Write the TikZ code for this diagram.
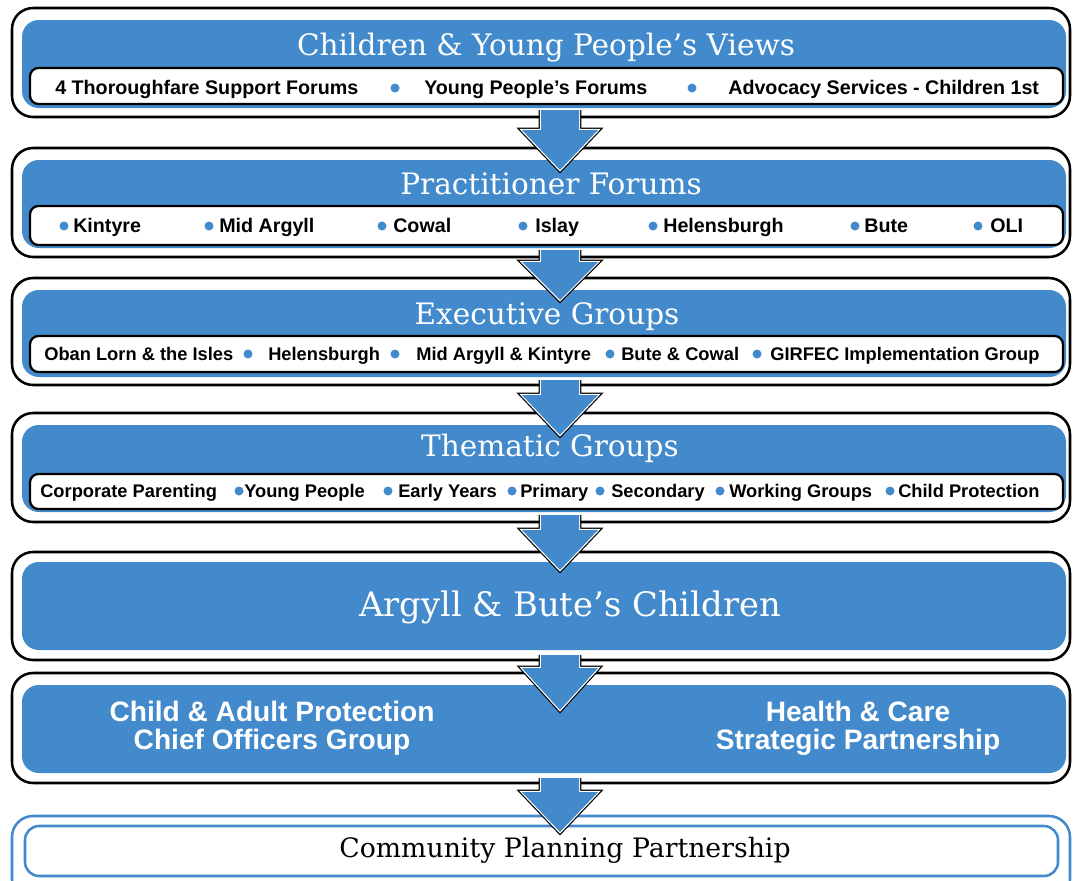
\documentclass[tikz,border=0pt]{standalone}
\usepackage{fontspec}
\setmainfont{DejaVu Serif}
\newfontfamily\itemfont{Liberation Sans}
\definecolor{panelblue}{RGB}{66,138,203}

\begin{document}
\begin{tikzpicture}[x=0.025cm,y=-0.025cm,
	outerbox/.style={draw=black,line width=1.8pt,fill=white,rounded corners=15pt},
	bluebox/.style={fill=panelblue,rounded corners=12pt},
	strip/.style={draw=black,line width=1.6pt,fill=white,rounded corners=6pt},
	title/.style={text=white,anchor=base,inner sep=0pt,font=\fontsize{21}{23}\selectfont},
	item/.style={anchor=base west,inner sep=0pt,font=\itemfont\bfseries\fontsize{14}{16}\selectfont},
	smallitem/.style={item,font=\itemfont\bfseries\fontsize{13}{15}\selectfont},
	dot/.style={fill=panelblue}]
	\useasboundingbox (0,0) rectangle (1073,881);
	\clip (0,0) rectangle (1073,881);
	% panels
	\foreach \t/\b in {8/117,148/257,278/385,413/522,552/660,673/783}
		\draw[outerbox] (12,\t) rectangle (1070,\b);
	\foreach \t/\b in {20/108,160/248,290/377,425/512,562/650,685/773}
		\fill[bluebox] (22,\t) rectangle (1066,\b);
	\foreach \t/\b in {68/104,206/245,336/372,474/509}
		\draw[strip] (30,\t) rectangle (1063,\b);
	\draw[draw=panelblue,line width=1.8pt,fill=white,rounded corners=15pt] (12,816) rectangle (1070,900);
	\draw[draw=panelblue,line width=1.8pt,rounded corners=10pt] (25,826) rectangle (1058,876);
	% titles
	\node[title] (views) at (546,55) {Children \& Young People’s Views};
	\node[title] (forums) at (551,194) {Practitioner Forums};
	\node[title] (exec) at (547,324) {Executive Groups};
	\node[title] (thematic) at (550,456) {Thematic Groups};
	\node[title,font=\fontsize{24}{26}\selectfont] (children) at (570,616) {Argyll \& Bute’s Children};
	% row 1
	\foreach \x/\t [count=\i] in {55/4 Thoroughfare Support Forums,424/Young People’s Forums,728/Advocacy Services - Children 1st}
		\node[item] (r1-\i) at (\x,94) {\t};
	\foreach \x in {395,692}
		\fill[dot] (\x,88) circle (4.5);
	% row 2
	\foreach \x/\t [count=\i] in {73/Kintyre,219/Mid Argyll,393/Cowal,535/Islay,663/Helensburgh,864/Bute,990/OLI}
		\node[item] (r2-\i) at (\x,232) {\t};
	\foreach \x in {64,209,382,523,653,855,978}
		\fill[dot] (\x,226) circle (4.5);
	% row 3
	\foreach \x/\t [count=\i] in {44/Oban Lorn \& the Isles,268/Helensburgh,416/Mid Argyll \& Kintyre,621/Bute \& Cowal,770/GIRFEC Implementation Group}
		\node[smallitem] (r3-\i) at (\x,360) {\t};
	\foreach \x in {248,395,610,757}
		\fill[dot] (\x,354) circle (4.5);
	% row 4
	\foreach \x/\t [count=\i] in {40/Corporate Parenting,244/Young People,398/Early Years,520/Primary,611/Secondary,729/Working Groups,898/Child Protection}
		\node[smallitem] (r4-\i) at (\x,497) {\t};
	\foreach \x in {239,388,512,600,720,890}
		\fill[dot] (\x,491) circle (4.5);
	% panel 6
	\node[text=white,align=center,font=\itemfont\bfseries\fontsize{20}{20}\selectfont] (protect) at (272,728) {Child \& Adult Protection\\Chief Officers Group};
	\node[text=white,align=center,font=\itemfont\bfseries\fontsize{20}{20}\selectfont] (health) at (858,728) {Health \& Care\\Strategic Partnership};
	\node[font=\fontsize{19}{21}\selectfont] (cpp) at (565,850) {Community Planning Partnership};
	% arrows
	\foreach \top/\base/\tip in {110/130/170,250/262/300,380/395/435,515/530/570,655/668/710,778/792/832}
		\path[preaction={draw=black,line width=3.4pt},preaction={draw=white,line width=1.7pt},fill=panelblue]
			(541,\top) -- (541,\base) -- (522,\base) -- (560,\tip) -- (598,\base) -- (579,\base) -- (579,\top);
\end{tikzpicture}
\end{document}
